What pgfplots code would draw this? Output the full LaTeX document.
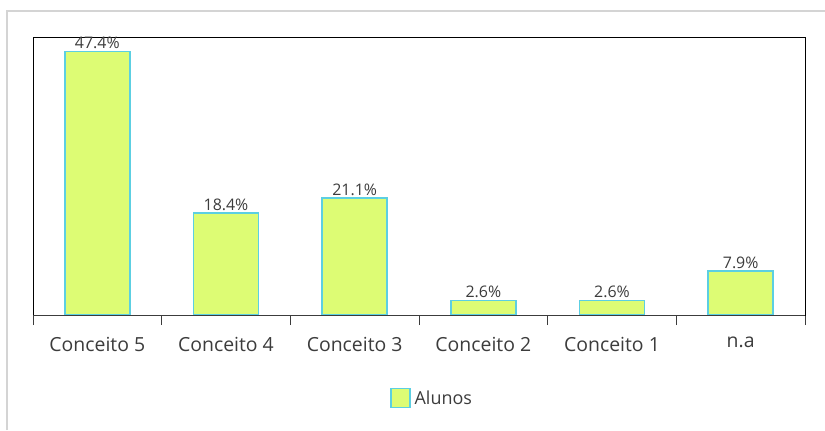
\documentclass[border=0pt]{standalone}
\usepackage{fontspec}
\setmainfont{Open Sans}
\usepackage{pgfplots}
\pgfplotsset{compat=1.18}
\definecolor{barfill}{HTML}{DDFC74}
\definecolor{barline}{HTML}{5CCFE2}
\definecolor{txt}{HTML}{3C3C3C}
\definecolor{frame}{HTML}{D4D4D4}
\begin{document}
\begin{tikzpicture}[x=1bp,y=1bp]
\path[use as bounding box] (0,0) rectangle (825,430);
\draw[frame,line width=1.2bp] (7,0) -- (7,419) -- (825,419);
\begin{axis}[
 at={(33bp,115bp)},anchor=south west,
 scale only axis,width=772bp,height=278bp,
 ybar,bar width=65bp,
 ymin=0,ymax=50,xmin=-0.5,xmax=5.5,
 ytick=\empty,
 xtick={0,...,5},
 xticklabels={Conceito 5,Conceito 4,Conceito 3,Conceito 2,Conceito 1,n.a},
 major x tick style={draw=none},
 minor xtick={-0.5,0.5,...,5.5},
 minor tick length=10bp,
 tick align=outside,xtick pos=bottom,
 minor x tick style={draw=txt,line width=1bp},
 x tick label style={font=\fontsize{19.5}{22}\selectfont,text=txt,yshift=-14bp},
 /pgf/number format/assume math mode=true,
 nodes near coords={\pgfmathprintnumber[fixed,precision=1,fixed zerofill]{\pgfplotspointmeta}\%},
 nodes near coords style={font=\fontsize{16}{18}\selectfont,text=txt,anchor=south,inner sep=1.5bp},
 legend style={at={(0.518,-0.2986)},anchor=center,draw=none,
   font=\fontsize{18}{20}\selectfont,text=txt,legend cell align=left,
   nodes={inner xsep=4bp}},
 legend image code/.code={\draw[#1] (0bp,-9.5bp) rectangle (19bp,9.5bp);},
]
\addplot[fill=barfill,draw=barline,line width=1.7bp] coordinates {
 (0,47.4) (1,18.4) (2,21.1) (3,2.6) (4,2.6) (5,7.9)};
\legend{Alunos}
\draw[txt,line width=1bp] (rel axis cs:0,0) -- (rel axis cs:1,0);
\end{axis}
\end{tikzpicture}
\end{document}
